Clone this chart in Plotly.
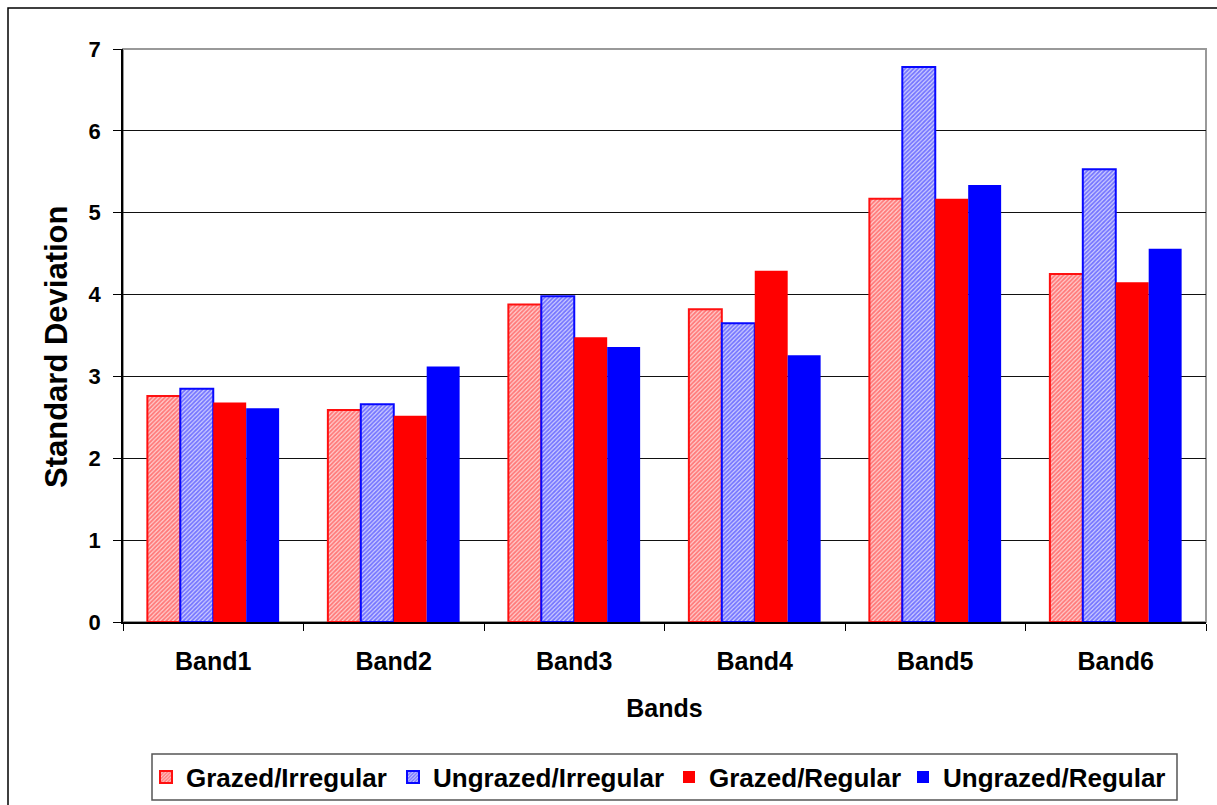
import plotly.graph_objects as go

bands = ["Band1", "Band2", "Band3", "Band4", "Band5", "Band6"]
grazed_irregular = [2.76, 2.59, 3.88, 3.82, 5.17, 4.25]
ungrazed_irregular = [2.85, 2.66, 3.98, 3.65, 6.78, 5.53]
grazed_regular = [2.68, 2.52, 3.48, 4.29, 5.17, 4.15]
ungrazed_regular = [2.61, 3.12, 3.36, 3.26, 5.34, 4.56]
y_ticks = [0, 1, 2, 3, 4, 5, 6, 7]

FONT = "Liberation Sans, Arial, sans-serif"
L, R, T, B = 123, 11, 49, 183
W, H = 1217, 805
PW, PH = W - L - R, H - T - B


def px_x(x):
    return (x - L) / PW


def px_y(y):
    return (H - B - y) / PH


fig = go.Figure()
fig.add_trace(go.Bar(
    name="Grazed/Irregular", x=bands, y=grazed_irregular, legend="legend",
    marker=dict(color="white", line=dict(color="#ff1010", width=2),
                pattern=dict(shape="/", fgcolor="#ff2020", bgcolor="#ffd0d0", size=3, solidity=0.6)),
))
fig.add_trace(go.Bar(
    name="Ungrazed/Irregular", x=bands, y=ungrazed_irregular, legend="legend2",
    marker=dict(color="white", line=dict(color="#0808ff", width=2),
                pattern=dict(shape="/", fgcolor="#1818ff", bgcolor="#d0d0ff", size=3, solidity=0.6)),
))
fig.add_trace(go.Bar(
    name="Grazed/Regular", x=bands, y=grazed_regular, legend="legend3",
    marker=dict(color="#ff0000", line=dict(color="#ff0000", width=0)),
))
fig.add_trace(go.Bar(
    name="Ungrazed/Regular", x=bands, y=ungrazed_regular, legend="legend4",
    marker=dict(color="#0000ff", line=dict(color="#0000ff", width=0)),
))

leg_common = dict(orientation="h", xanchor="left", yanchor="middle", y=px_y(777),
                  borderwidth=0, bgcolor="rgba(0,0,0,0)",
                  font=dict(family=FONT, size=26, weight="bold"), itemwidth=30)

fig.update_layout(
    width=W, height=H,
    margin=dict(l=L, r=R, t=T, b=B, autoexpand=False),
    paper_bgcolor="white", plot_bgcolor="white",
    barmode="group", bargap=0.27, bargroupgap=0,
    font=dict(family=FONT, size=22, color="black", weight="bold"),
    showlegend=True,
    legend=dict(x=px_x(146), **leg_common),
    legend2=dict(x=px_x(393), **leg_common),
    legend3=dict(x=px_x(669), **leg_common),
    legend4=dict(x=px_x(903), **leg_common),
    shapes=[
        dict(type="rect", xref="paper", yref="paper", x0=0, x1=1, y0=0, y1=1,
             line=dict(color="#999999", width=2), layer="below"),
        dict(type="rect", xref="paper", yref="paper", x0=px_x(8), x1=px_x(1230),
             y0=px_y(815), y1=px_y(8),
             line=dict(color="black", width=1.5), layer="below"),
        dict(type="rect", xref="paper", yref="paper",
             x0=px_x(152), x1=px_x(1177), y0=px_y(800), y1=px_y(754),
             line=dict(color="#555555", width=1.5), layer="below"),
    ],
    annotations=[
        dict(text="Standard Deviation", xref="paper", yref="paper",
             x=px_x(57), y=px_y(347), xanchor="center", yanchor="middle",
             textangle=-90, showarrow=False,
             font=dict(family=FONT, size=31, weight="bold", color="black")),
    ],
)

fig.update_yaxes(
    range=[0, 7], tickvals=y_ticks, ticks="outside", ticklen=8, tickcolor="black",
    showgrid=True, gridcolor="#111111", gridwidth=1.2,
    showline=True, linecolor="black", linewidth=1.5, zeroline=False,
    tickfont=dict(family=FONT, size=22, weight="bold"), ticklabelstandoff=8,
)
fig.update_xaxes(
    tickson="boundaries", ticks="outside", ticklen=7, tickcolor="black",
    showline=True, linecolor="black", linewidth=1.5,
    tickfont=dict(family=FONT, size=25, weight="bold"), ticklabelstandoff=16,
    title=dict(text="Bands", font=dict(family=FONT, size=25, weight="bold"), standoff=26),
)

fig.write_html("out.html")
